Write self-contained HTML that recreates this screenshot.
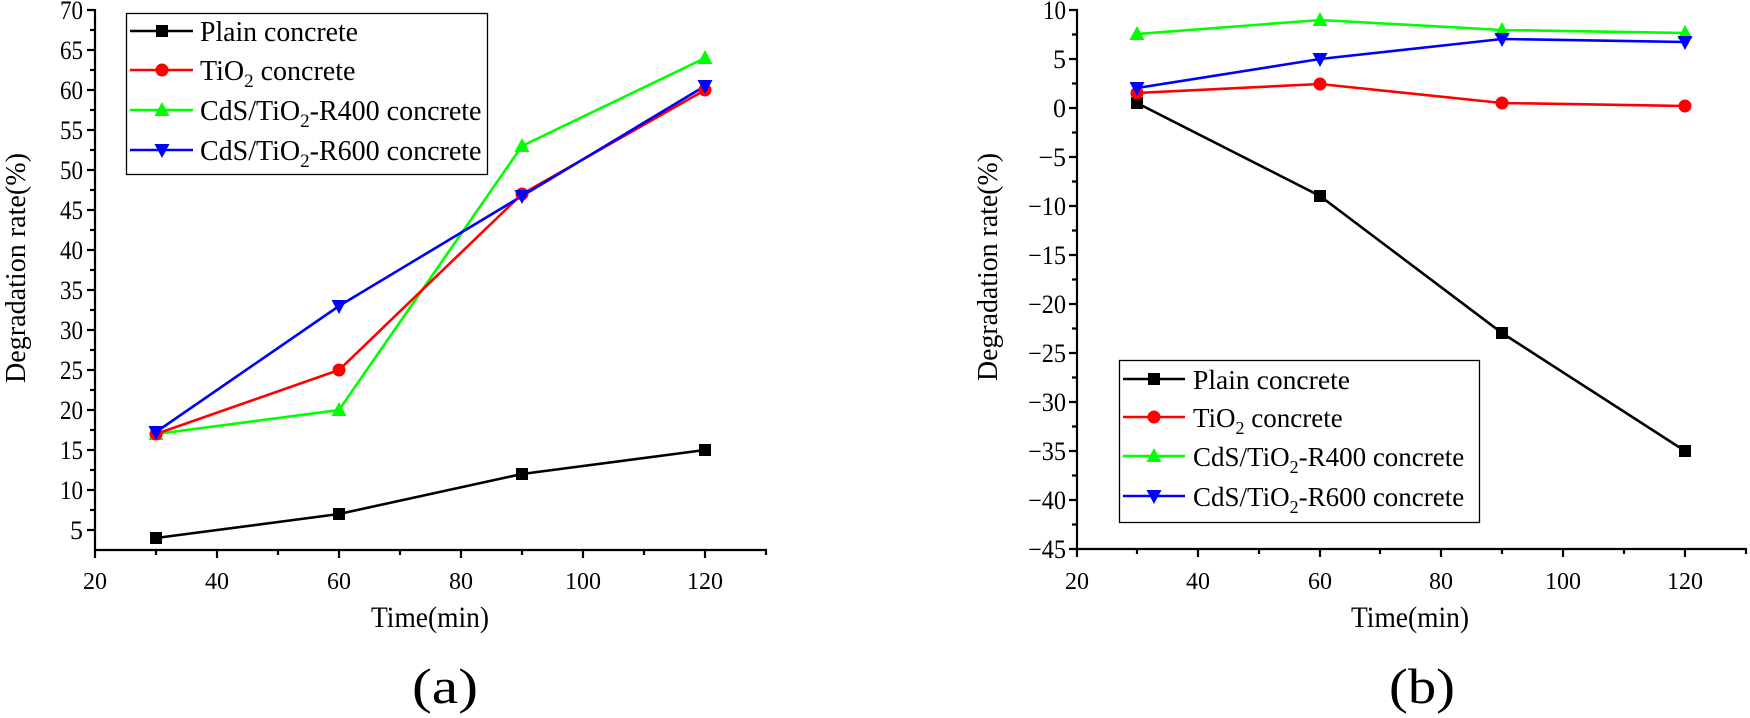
<!DOCTYPE html>
<html><head><meta charset="utf-8"><style>
html,body{margin:0;padding:0;background:#fff;}
svg{display:block;}
text{font-family:"Liberation Serif",serif;fill:#000;}
</style></head><body>
<svg width="1750" height="718" viewBox="0 0 1750 718" xmlns="http://www.w3.org/2000/svg">
<defs>
<g id="sq"><rect x="-6" y="-6" width="12" height="12" fill="#000"/></g>
<g id="ci"><circle r="6.5" fill="#f00"/></g>
<g id="tu"><polygon points="0,-8 7.5,6 -7.5,6" fill="#0f0"/></g>
<g id="td"><polygon points="0,8 7.5,-6 -7.5,-6" fill="#00f"/></g>
</defs>

<!-- ===== LEFT CHART ===== -->
<g stroke="#000" stroke-width="2.2" fill="none">
<line x1="95" y1="9" x2="95" y2="551"/>
<line x1="94" y1="550" x2="767" y2="550"/>
<path d="M87 10H95M87 50H95M87 90H95M87 130H95M87 170H95M87 210H95M87 250H95M87 290H95M87 330H95M87 370H95M87 410H95M87 450H95M87 490H95M87 530H95"/>
<path d="M90 30H95M90 70H95M90 110H95M90 150H95M90 190H95M90 230H95M90 270H95M90 310H95M90 350H95M90 390H95M90 430H95M90 470H95M90 510H95"/>
<path d="M95 550V558M217 550V558M339 550V558M461 550V558M583 550V558M705 550V558"/>
<path d="M156 550V555M278 550V555M400 550V555M522 550V555M644 550V555M766 550V555"/>
</g>
<g font-size="26" text-anchor="end">
<text x="83" y="19" textLength="23" lengthAdjust="spacingAndGlyphs">70</text>
<text x="83" y="59" textLength="23" lengthAdjust="spacingAndGlyphs">65</text>
<text x="83" y="99" textLength="23" lengthAdjust="spacingAndGlyphs">60</text>
<text x="83" y="139" textLength="23" lengthAdjust="spacingAndGlyphs">55</text>
<text x="83" y="179" textLength="23" lengthAdjust="spacingAndGlyphs">50</text>
<text x="83" y="219" textLength="23" lengthAdjust="spacingAndGlyphs">45</text>
<text x="83" y="259" textLength="23" lengthAdjust="spacingAndGlyphs">40</text>
<text x="83" y="299" textLength="23" lengthAdjust="spacingAndGlyphs">35</text>
<text x="83" y="339" textLength="23" lengthAdjust="spacingAndGlyphs">30</text>
<text x="83" y="379" textLength="23" lengthAdjust="spacingAndGlyphs">25</text>
<text x="83" y="419" textLength="23" lengthAdjust="spacingAndGlyphs">20</text>
<text x="83" y="459" textLength="23" lengthAdjust="spacingAndGlyphs">15</text>
<text x="83" y="499" textLength="23" lengthAdjust="spacingAndGlyphs">10</text>
<text x="83" y="539">5</text>
</g>
<g font-size="24" text-anchor="middle">
<text x="95" y="589">20</text><text x="217" y="589">40</text><text x="339" y="589">60</text>
<text x="461" y="589">80</text><text x="583" y="589">100</text><text x="705" y="589">120</text>
</g>
<text x="430" y="627" font-size="30" text-anchor="middle" textLength="118" lengthAdjust="spacingAndGlyphs">Time(min)</text>
<text x="445" y="703" font-size="50" text-anchor="middle" textLength="66" lengthAdjust="spacingAndGlyphs">(a)</text>
<text transform="translate(25,268) rotate(-90)" font-size="29" text-anchor="middle" textLength="230" lengthAdjust="spacingAndGlyphs">Degradation rate(%)</text>

<g fill="none" stroke-width="2.6">
<polyline stroke="#000" points="156,538 339,514 522,474 705,450"/>
<polyline stroke="#0f0" points="156,434 339,410 522,146 705,58"/>
<polyline stroke="#f00" points="156,434 339,370 522,194 705,90"/>
<polyline stroke="#00f" points="156,432 339,306 522,196 705,86"/>
</g>
<use href="#sq" x="156" y="538"/><use href="#sq" x="339" y="514"/><use href="#sq" x="522" y="474"/><use href="#sq" x="705" y="450"/>
<use href="#tu" x="156" y="434"/><use href="#tu" x="339" y="410"/><use href="#tu" x="522" y="146"/><use href="#tu" x="705" y="58"/>
<use href="#ci" x="156" y="434"/><use href="#ci" x="339" y="370"/><use href="#ci" x="522" y="194"/><use href="#ci" x="705" y="90"/>
<use href="#td" x="156" y="432"/><use href="#td" x="339" y="306"/><use href="#td" x="522" y="196"/><use href="#td" x="705" y="86"/>

<!-- left legend -->
<rect x="126.5" y="13.5" width="361" height="161" fill="#fff" stroke="#000" stroke-width="1.3"/>
<g stroke-width="2.6">
<line x1="130" y1="31" x2="193" y2="31" stroke="#000"/>
<line x1="130" y1="70" x2="193" y2="70" stroke="#f00"/>
<line x1="130" y1="110" x2="193" y2="110" stroke="#0f0"/>
<line x1="130" y1="150" x2="193" y2="150" stroke="#00f"/>
</g>
<use href="#sq" x="162" y="31"/><use href="#ci" x="162" y="70"/><use href="#tu" x="162" y="110"/><use href="#td" x="162" y="150"/>
<g font-size="28">
<text x="200" y="41" textLength="158" lengthAdjust="spacingAndGlyphs">Plain concrete</text>
<text x="200" y="80">TiO<tspan font-size="19" dy="7">2</tspan><tspan dy="-7"> concrete</tspan></text>
<text x="200" y="120">CdS/TiO<tspan font-size="19" dy="7">2</tspan><tspan dy="-7">-R400 concrete</tspan></text>
<text x="200" y="160">CdS/TiO<tspan font-size="19" dy="7">2</tspan><tspan dy="-7">-R600 concrete</tspan></text>
</g>

<!-- ===== RIGHT CHART ===== -->
<g stroke="#000" stroke-width="2.2" fill="none">
<line x1="1077" y1="9" x2="1077" y2="550"/>
<line x1="1076" y1="549" x2="1747" y2="549"/>
<path d="M1069 10H1077M1069 59H1077M1069 108H1077M1069 157H1077M1069 206H1077M1069 255H1077M1069 304H1077M1069 353H1077M1069 402H1077M1069 451H1077M1069 500H1077M1069 549H1077"/>
<path d="M1072 34.5H1077M1072 83.5H1077M1072 132.5H1077M1072 181.5H1077M1072 230.5H1077M1072 279.5H1077M1072 328.5H1077M1072 377.5H1077M1072 426.5H1077M1072 475.5H1077M1072 524.5H1077"/>
<path d="M1077 549V557M1198 549V557M1320 549V557M1441 549V557M1563 549V557M1685 549V557"/>
<path d="M1137 549V554M1259 549V554M1380 549V554M1502 549V554M1624 549V554M1746 549V554"/>
</g>
<g font-size="26" text-anchor="end">
<text x="1066" y="19" textLength="23" lengthAdjust="spacingAndGlyphs">10</text>
<text x="1066" y="68">5</text>
<text x="1066" y="117">0</text>
<text x="1066" y="166">−5</text>
<text x="1066" y="215" textLength="38" lengthAdjust="spacingAndGlyphs">−10</text>
<text x="1066" y="264" textLength="38" lengthAdjust="spacingAndGlyphs">−15</text>
<text x="1066" y="313" textLength="38" lengthAdjust="spacingAndGlyphs">−20</text>
<text x="1066" y="362" textLength="38" lengthAdjust="spacingAndGlyphs">−25</text>
<text x="1066" y="411" textLength="38" lengthAdjust="spacingAndGlyphs">−30</text>
<text x="1066" y="460" textLength="38" lengthAdjust="spacingAndGlyphs">−35</text>
<text x="1066" y="509" textLength="38" lengthAdjust="spacingAndGlyphs">−40</text>
<text x="1066" y="558" textLength="38" lengthAdjust="spacingAndGlyphs">−45</text>
</g>
<g font-size="24" text-anchor="middle">
<text x="1077" y="589">20</text><text x="1198" y="589">40</text><text x="1320" y="589">60</text>
<text x="1441" y="589">80</text><text x="1563" y="589">100</text><text x="1685" y="589">120</text>
</g>
<text x="1410" y="627" font-size="30" text-anchor="middle" textLength="118" lengthAdjust="spacingAndGlyphs">Time(min)</text>
<text x="1422" y="703" font-size="50" text-anchor="middle" textLength="66" lengthAdjust="spacingAndGlyphs">(b)</text>
<text transform="translate(997,267) rotate(-90)" font-size="29" text-anchor="middle" textLength="228" lengthAdjust="spacingAndGlyphs">Degradation rate(%)</text>

<g fill="none" stroke-width="2.6">
<polyline stroke="#000" points="1137,103 1320,196 1502,333 1685,451"/>
<polyline stroke="#0f0" points="1137,34 1320,20 1502,30 1685,33"/>
<polyline stroke="#f00" points="1137,93 1320,84 1502,103 1685,106"/>
<polyline stroke="#00f" points="1137,88 1320,59 1502,39 1685,42"/>
</g>
<use href="#sq" x="1137" y="103"/><use href="#sq" x="1320" y="196"/><use href="#sq" x="1502" y="333"/><use href="#sq" x="1685" y="451"/>
<use href="#tu" x="1137" y="34"/><use href="#tu" x="1320" y="20"/><use href="#tu" x="1502" y="30"/><use href="#tu" x="1685" y="33"/>
<use href="#ci" x="1137" y="93"/><use href="#ci" x="1320" y="84"/><use href="#ci" x="1502" y="103"/><use href="#ci" x="1685" y="106"/>
<use href="#td" x="1137" y="88"/><use href="#td" x="1320" y="59"/><use href="#td" x="1502" y="39"/><use href="#td" x="1685" y="42"/>

<!-- right legend -->
<rect x="1119.5" y="360.5" width="360" height="162" fill="#fff" stroke="#000" stroke-width="1.3"/>
<g stroke-width="2.6">
<line x1="1123" y1="379" x2="1185" y2="379" stroke="#000"/>
<line x1="1123" y1="417" x2="1185" y2="417" stroke="#f00"/>
<line x1="1123" y1="456" x2="1185" y2="456" stroke="#0f0"/>
<line x1="1123" y1="496" x2="1185" y2="496" stroke="#00f"/>
</g>
<use href="#sq" x="1154" y="379"/><use href="#ci" x="1154" y="417"/><use href="#tu" x="1154" y="456"/><use href="#td" x="1154" y="496"/>
<g font-size="27">
<text x="1193" y="389" textLength="157" lengthAdjust="spacingAndGlyphs">Plain concrete</text>
<text x="1193" y="427">TiO<tspan font-size="18" dy="7">2</tspan><tspan dy="-7"> concrete</tspan></text>
<text x="1193" y="466">CdS/TiO<tspan font-size="18" dy="7">2</tspan><tspan dy="-7">-R400 concrete</tspan></text>
<text x="1193" y="506">CdS/TiO<tspan font-size="18" dy="7">2</tspan><tspan dy="-7">-R600 concrete</tspan></text>
</g>
</svg>
</body></html>
